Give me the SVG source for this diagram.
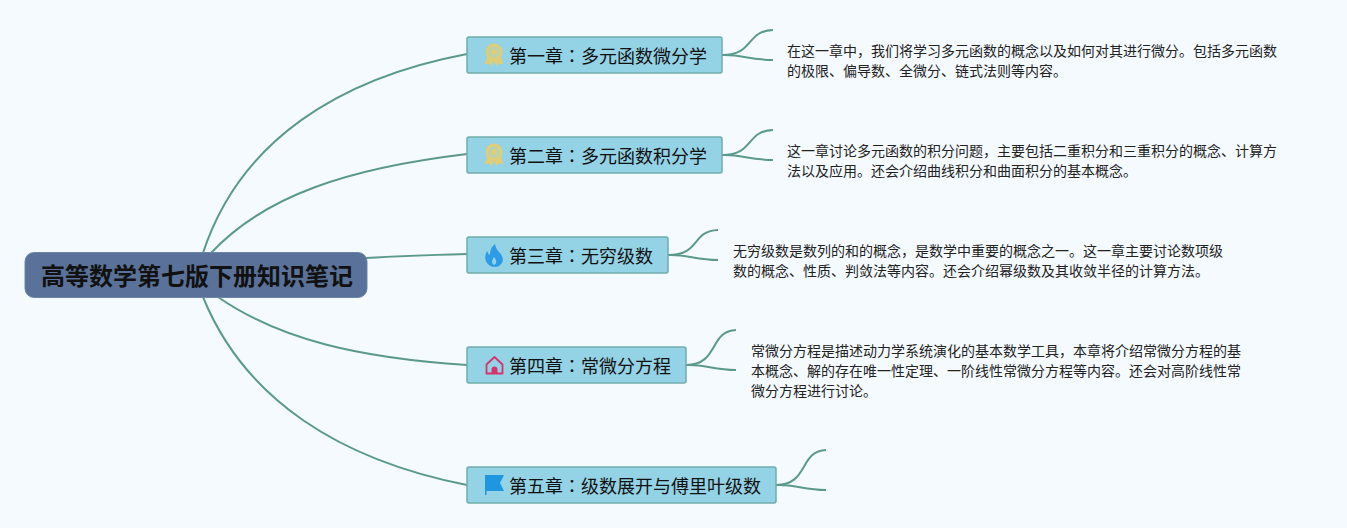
<svg xmlns="http://www.w3.org/2000/svg" width="1347" height="528" viewBox="0 0 1347 528">
<style>
.cjk{font-family:"Noto Sans CJK SC","Liberation Sans",sans-serif;fill:#111}
.box{fill:#94d2e6;stroke:#6fadaa;stroke-width:1.5}
.ch{font-size:18px}
.tc{font-family:"Noto Sans CJK TC","Noto Sans CJK SC",sans-serif}
.note{font-size:14px;fill:#222}
.ln{fill:none;stroke:#5b9a8b;stroke-width:2;stroke-linecap:butt}
</style>
<defs>
<g id="medal"><path d="M-7 2 L-9.500 9 L-5 8.500 L-2.500 11 L0 6 L2.500 11 L5 8.500 L9.500 9 L7 2Z" fill="#dfcd78"/><circle cx="0" cy="-3" r="8.500" fill="#dfcd78"/><circle cx="0" cy="-3" r="5.500" fill="#b5d2b6"/><circle cx="0" cy="-3" r="3" fill="#dfcd78"/></g>
</defs>
<rect width="1347" height="528" fill="#f5faff"/>
<g id="connectors" class="connectors">
<path class="ln" d="M203 253C240 140 340 78 467 54"/>
<path class="ln" d="M211 253C265 195 350 168 467 154"/>
<path class="ln" d="M366 258C400 256 430 255 467 254"/>
<path class="ln" d="M218 297C280 340 360 358 467 365"/>
<path class="ln" d="M203 297C245 400 340 460 467 485"/>
<path class="ln" d="M722 55C755 55 745 31 773 30"/>
<path class="ln" d="M722 55C740 54 750 60 773 60"/>
<path class="ln" d="M722 155C755 155 745 131 773 130"/>
<path class="ln" d="M722 155C740 154 750 160 773 160"/>
<path class="ln" d="M668 255C701 255 691 231 718 230"/>
<path class="ln" d="M668 255C686 254 696 260 718 260"/>
<path class="ln" d="M686 365C719 365 709 331 736 330"/>
<path class="ln" d="M686 365C704 364 714 370 736 370"/>
<path class="ln" d="M776 485C809 485 799 451 826 450"/>
<path class="ln" d="M776 485C794 484 804 490 826 490"/>
</g>
<g id="root"><rect x="25" y="252.500" width="342" height="45" rx="9" fill="#5a7299" stroke="#6c84a6"/><text class="cjk" x="41" y="284.500" font-size="24" font-weight="700" fill="#0a0a0a">高等数学第七版下册知识笔记</text></g>
<g id="ch1"><rect class="box" x="467" y="37" width="255" height="36" rx="2"/><use href="#medal" x="494" y="55"/><text class="cjk ch" x="509" y="62.500">第一章<tspan class="tc">：</tspan>多元函数微分学</text></g>
<g id="ch2"><rect class="box" x="467" y="137" width="255" height="36" rx="2"/><use href="#medal" x="494" y="155"/><text class="cjk ch" x="509" y="162.500">第二章<tspan class="tc">：</tspan>多元函数积分学</text></g>
<g id="ch3"><rect class="box" x="467" y="237" width="201" height="36" rx="2"/><path fill-rule="evenodd" d="M495 244C496 249 498 251 500 253C504 258 504 263 499 266C496 267.500 491 267 489 265C485 262 484 257 487 251C488 253 489 255 490 255C490 251 491 247 495 244ZM494 257C492 260 491 263 494 265C497 264 497 260 494 257Z" fill="#2e9be6"/><text class="cjk ch" x="509" y="262.500">第三章<tspan class="tc">：</tspan>无穷级数</text></g>
<g id="ch4"><rect class="box" x="467" y="347" width="219" height="36" rx="2"/><path d="M486.500 364.500L494.500 357L502.500 364.500V373.500H486.500Z" fill="none" stroke="#d6336c" stroke-width="1.800" stroke-linejoin="round"/><path d="M491.500 374V369.500A3 3 0 0 1 497.500 369.500V374Z" fill="#d6336c"/><text class="cjk ch" x="509" y="372.500">第四章<tspan class="tc">：</tspan>常微分方程</text></g>
<g id="ch5"><rect class="box" x="467" y="467" width="309" height="36" rx="2"/><path d="M485 475H504L500 483L504 491H486.500V495H485Z" fill="#1f96e0"/><text class="cjk ch" x="509" y="492.500">第五章<tspan class="tc">：</tspan>级数展开与傅里叶级数</text></g>
<g id="note1"><text class="cjk note" x="787" y="56">在这一章中，我们将学习多元函数的概念以及如何对其进行微分。包括多元函数</text><text class="cjk note" x="787" y="76">的极限、偏导数、全微分、链式法则等内容。</text></g>
<g id="note2"><text class="cjk note" x="787" y="156">这一章讨论多元函数的积分问题，主要包括二重积分和三重积分的概念、计算方</text><text class="cjk note" x="787" y="176">法以及应用。还会介绍曲线积分和曲面积分的基本概念。</text></g>
<g id="note3"><text class="cjk note" x="733" y="256">无穷级数是数列的和的概念，是数学中重要的概念之一。这一章主要讨论数项级</text><text class="cjk note" x="733" y="276">数的概念、性质、判敛法等内容。还会介绍幂级数及其收敛半径的计算方法。</text></g>
<g id="note4"><text class="cjk note" x="751" y="356">常微分方程是描述动力学系统演化的基本数学工具，本章将介绍常微分方程的基</text><text class="cjk note" x="751" y="376">本概念、解的存在唯一性定理、一阶线性常微分方程等内容。还会对高阶线性常</text><text class="cjk note" x="751" y="396">微分方程进行讨论。</text></g>
</svg>
